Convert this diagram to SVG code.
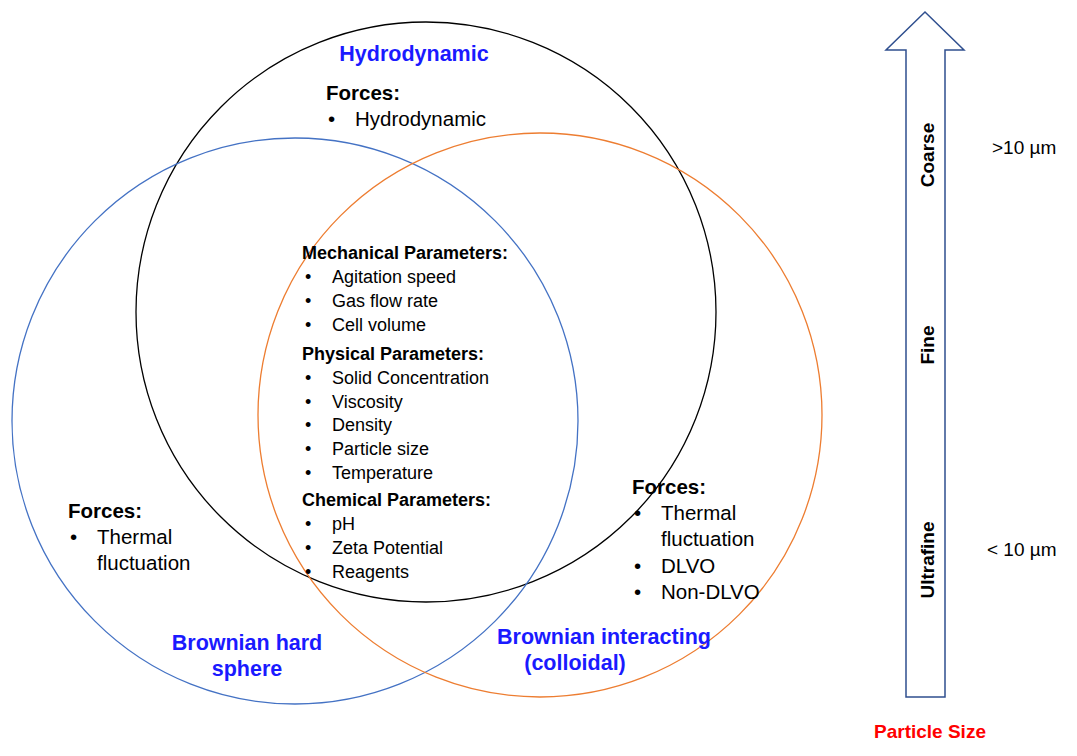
<svg xmlns="http://www.w3.org/2000/svg" width="1077" height="756" viewBox="0 0 1077 756">
<style>
text{font-family:"Liberation Sans",Arial,sans-serif;font-size:20.5px;fill:#000}
.b{font-weight:bold}
.t{fill:#1a1aff;font-weight:bold;font-size:21.5px}
.s{font-size:18px}
.c{fill:none;stroke-width:1.3}
</style>
<rect width="1077" height="756" fill="#fff"/>
<g id="hydro"><circle class="c" cx="426" cy="312" r="290" stroke="#000"/>
<text class="t" x="414" y="61" text-anchor="middle">Hydrodynamic</text>
<text class="b" x="326" y="100">Forces:</text>
<text x="328" y="126">•</text><text x="355" y="126">Hydrodynamic</text></g>
<g id="hard"><circle class="c" cx="295" cy="421" r="283" stroke="#4472c4"/>
<text class="b" x="68" y="518">Forces:</text>
<text x="70" y="544">•</text><text x="97" y="544">Thermal</text><text x="97" y="570">fluctuation</text>
<text class="t" x="247" y="650" text-anchor="middle">Brownian hard</text>
<text class="t" x="247" y="676" text-anchor="middle">sphere</text></g>
<g id="interact"><circle class="c" cx="540" cy="415" r="282" stroke="#ed7d31"/>
<text class="b" x="632" y="494">Forces:</text>
<text x="634" y="520">•</text><text x="661" y="520">Thermal</text><text x="661" y="546">fluctuation</text>
<text x="634" y="573">•</text><text x="661" y="573">DLVO</text>
<text x="634" y="599">•</text><text x="661" y="599">Non-DLVO</text>
<text class="t" x="604" y="644" text-anchor="middle">Brownian interacting</text>
<text class="t" x="575" y="670" text-anchor="middle">(colloidal)</text></g>
<g id="center">
<text class="b s" x="302" y="259">Mechanical Parameters:</text>
<text class="s" x="305" y="283">•</text><text class="s" x="332" y="283">Agitation speed</text>
<text class="s" x="305" y="307">•</text><text class="s" x="332" y="307">Gas flow rate</text>
<text class="s" x="305" y="331">•</text><text class="s" x="332" y="331">Cell volume</text>
<text class="b s" x="302" y="360">Physical Parameters:</text>
<text class="s" x="305" y="384">•</text><text class="s" x="332" y="384">Solid Concentration</text>
<text class="s" x="305" y="408">•</text><text class="s" x="332" y="408">Viscosity</text>
<text class="s" x="305" y="431">•</text><text class="s" x="332" y="431">Density</text>
<text class="s" x="305" y="455">•</text><text class="s" x="332" y="455">Particle size</text>
<text class="s" x="305" y="479">•</text><text class="s" x="332" y="479">Temperature</text>
<text class="b s" x="302" y="506">Chemical Parameters:</text>
<text class="s" x="305" y="530">•</text><text class="s" x="332" y="530">pH</text>
<text class="s" x="305" y="554">•</text><text class="s" x="332" y="554">Zeta Potential</text>
<text class="s" x="305" y="578">•</text><text class="s" x="332" y="578">Reagents</text></g>
<g id="arrow">
<path d="M906,697 V50 H886 L925,12 L964,50 H945 V697 Z" fill="#fff" stroke="#2f4f8f" stroke-width="1.5"/>
<text class="b" transform="translate(934,155) rotate(-90)" text-anchor="middle" style="font-size:19px">Coarse</text>
<text class="b" transform="translate(934,345) rotate(-90)" text-anchor="middle" style="font-size:19px">Fine</text>
<text class="b" transform="translate(934,560) rotate(-90)" text-anchor="middle" style="font-size:19px">Ultrafine</text>
<text x="992" y="154" style="font-size:19px">&gt;10 µm</text>
<text x="987" y="556" style="font-size:19px">&lt; 10 µm</text>
<text x="930" y="738" text-anchor="middle" style="fill:#ff0000;font-weight:bold;font-size:19px">Particle Size</text></g>
<g id="connectors"/>
</svg>
